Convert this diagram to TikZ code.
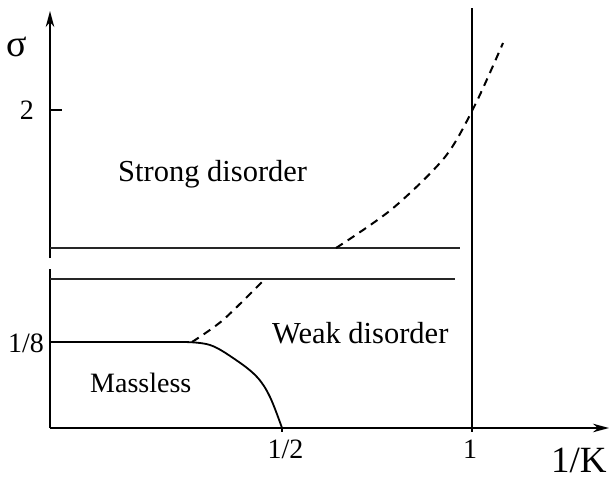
\documentclass[tikz,border=0pt]{standalone}
\usepackage{fontspec}
\setmainfont{Liberation Serif}
\usetikzlibrary{arrows.meta}
\tikzset{
  axis/.style={line width=2pt,-{Stealth[length=16pt,width=8.5pt,inset=5pt]}},
  axisplain/.style={line width=2pt},
  thinline/.style={line width=1.3pt,black!85},
  boundary/.style={line width=1.8pt},
  dashbound/.style={line width=2pt,dash pattern=on 8pt off 6pt},
  lab/.style={inner sep=0pt,font=\fontsize{30.5}{34}\selectfont},
  num/.style={inner sep=0pt,font=\fontsize{28}{30}\selectfont},
  tickline/.style={line width=1.6pt}
}
\begin{document}
\begin{tikzpicture}[x=1pt,y=-1pt]
\useasboundingbox (0,0) rectangle (610,481);
% coordinates
\coordinate (O) at (50,428);
\coordinate (Ybreaklow) at (50,269);
\coordinate (Ybreakhigh) at (50,258);
\coordinate (Ytop) at (50,11);
\coordinate (Xend) at (609,428);
\coordinate (Vtop) at (472,8);
\coordinate (Vbot) at (472,428);
\coordinate (U1) at (50,248);
\coordinate (U2) at (460,248);
\coordinate (L1) at (50,279);
\coordinate (L2) at (455,279);
\coordinate (T2a) at (50,110);
\coordinate (T2b) at (62,110);
\coordinate (Th) at (282,428);
\coordinate (Thb) at (282,432);
\coordinate (T1) at (472,432);
\coordinate (E0) at (50,342);
\coordinate (E1) at (183,342);
% axes
\draw[axisplain] (O) -- (Ybreaklow);
\draw[axis] (Ybreakhigh) -- (Ytop);
\draw[axis] (O) -- (Xend);
\draw[axisplain] (Vbot) -- (Vtop);
\draw[tickline] (Vbot) -- (T1);
\draw[tickline] (Th) -- (Thb);
\draw[tickline] (T2a) -- (T2b);
% break lines
\draw[thinline] (U1) -- (U2);
\draw[thinline] (L1) -- (L2);
% massless boundary
\draw[boundary] (E0) -- (E1);
\draw[boundary] plot[smooth,tension=0.6] coordinates {(183,342) (210,345) (236,360) (257,377) (270,397) (282,428)};
% dashed boundaries
\draw[dashbound] plot[smooth] coordinates {(192,342) (223,320) (265,279)};
\draw[dashbound] plot[smooth] coordinates {(336,248) (392,209) (445,157) (475,105) (503,43)};
% labels
\node[lab,anchor=base west] (strong) at (118,182) {Strong disorder};
\node[lab,anchor=base west] (weak) at (272,343) {Weak disorder};
\node[inner sep=0pt,anchor=base west,font=\fontsize{28}{32}\selectfont] (massless) at (90,392) {Massless};
\node[num,anchor=base west] (eighth) at (8,352) {1/8};
\node[num,anchor=base] (half) at (285.5,458) {1/2};
\node[num,anchor=base] (one) at (470,458) {1};
\node[num,anchor=base east] (two) at (34,120) {2};
\node[inner sep=0pt,anchor=base west,font=\fontsize{38}{40}\selectfont] (sigma) at (6,57) {σ};
\node[inner sep=0pt,anchor=base west,font=\fontsize{37}{40}\selectfont] (invK) at (551,472) {1/K};
\end{tikzpicture}
\end{document}
